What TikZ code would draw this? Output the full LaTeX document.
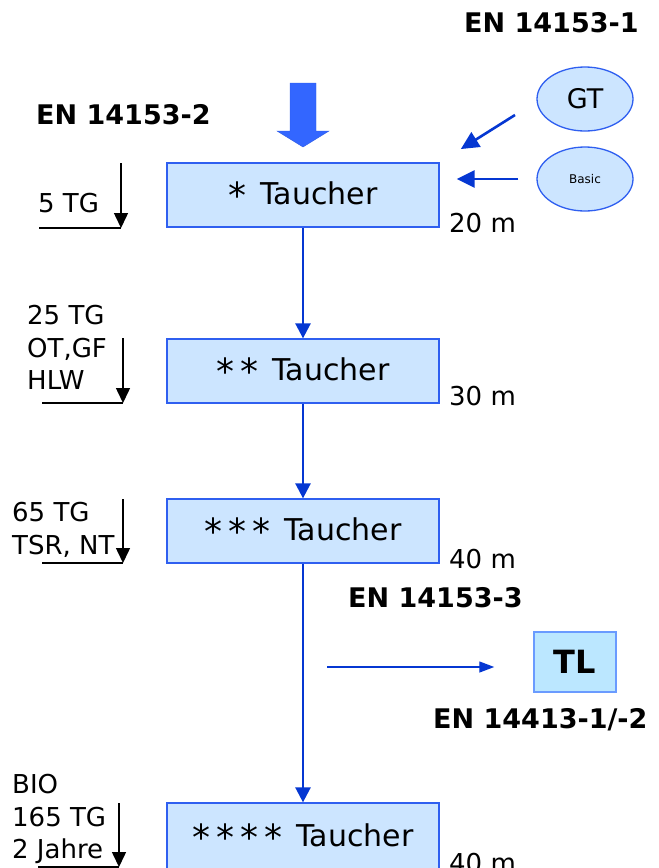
\documentclass[tikz,border=0pt]{standalone}
\usepackage{fontspec}
\setmainfont{DejaVu Sans}
\usepackage{xcolor}
\usetikzlibrary{arrows.meta}
\usetikzlibrary{shapes.geometric}
\definecolor{boxfill}{HTML}{CCE5FF}
\definecolor{boxline}{HTML}{2F5FF0}
\definecolor{flowblue}{HTML}{0537D2}
\definecolor{fatblue}{HTML}{3366FF}
\definecolor{tlfill}{HTML}{BBE7FF}
\definecolor{tlline}{HTML}{6A9BFF}
\newcommand{\taustern}{\raisebox{-4pt}{\scalebox{1.2}{*}}\kern6pt}

\tikzset{
  taucher/.style={draw=boxline, fill=boxfill, line width=1.3pt, minimum width=272pt, minimum height=64pt, inner sep=0pt, font=\fontsize{30}{34}\selectfont},
  kurs/.style={ellipse, draw=boxline, fill=boxfill, line width=1.3pt, minimum width=96pt, minimum height=64pt, inner sep=0pt},
  flow/.style={flowblue, line width=2.6pt, -{Triangle[length=15pt,width=15pt]}},
  feed/.style={flowblue, line width=2.6pt, -{Triangle[length=18pt,width=17pt]}},
  tgarrow/.style={black, line width=1.5pt, -{Triangle[length=15pt,width=14pt]}},
  norm/.style={font=\bfseries\fontsize{27}{30}\selectfont, anchor=base west, inner sep=0pt},
  label/.style={font=\fontsize{26}{32.5}\selectfont, inner sep=0pt},
}

\begin{document}
\begin{tikzpicture}[x=1pt, y=-1pt]
  \useasboundingbox (0,0) rectangle (659,868);

  \draw [fatblue!90!black, fill=fatblue] (290,83) -- (316,83) -- (316,131) -- (329,131) -- (303,147) -- (277,131) -- (290,131) -- cycle;

  \node (t1) [taucher] at (303,195) {\taustern\kern8pt Taucher};
  \node (t2) [taucher] at (303,371) {\taustern\taustern\kern8pt Taucher};
  \node (t3) [taucher] at (303,531) {\taustern\taustern\taustern\kern8pt Taucher};
  \node (t4) [taucher, minimum height=68pt] at (303,837) {\taustern\taustern\taustern\taustern\kern8pt Taucher};

  \node (gt) [kurs, font=\fontsize{27}{32}\selectfont] at (585,99) {GT};
  \node (basic) [kurs, font=\fontsize{12}{14}\selectfont] at (585,179) {Basic};

  \node (tl) [draw=tlline, fill=tlfill, line width=1.5pt, minimum width=82pt, minimum height=60pt, inner sep=0pt, font=\bfseries\fontsize{32}{36}\selectfont] at (575,662) {TL};

  \draw [flow] (t1) -- (t2);
  \draw [flow] (t2) -- (t3);
  \draw [flow] (t3) -- (t4);

  \coordinate (gtfoot) at (515,115);
  \draw [feed, shorten >=25pt] (gtfoot) -- (t1.north east);
  \draw [feed, shorten <=18pt, shorten >=17pt] (basic.west) -- (basic.west -| t1.east);

  \coordinate (tlfoot) at (327,667);
  \draw [flowblue, line width=1.4pt, -{Triangle[length=15pt,width=11pt]}, shorten >=39pt] (tlfoot) -- (tlfoot -| tl.west);

  \node (en1) [norm] at (464,32) {EN 14153-1};
  \node (en2) [norm] at (36,124) {EN 14153-2};
  \node (en3) [norm] at (348,607) {EN 14153-3};
  \node (en4) [norm] at (433,728) {EN 14413-1/-2};

  \node (d1) [label, anchor=base west] at (449,232) {20 m};
  \node (d2) [label, anchor=base west] at (449,405) {30 m};
  \node (d3) [label, anchor=base west] at (449,568) {40 m};
  \node (d4) [label, anchor=base west] at (449,872) {40 m};

  \node (s1) [label, anchor=base west] at (38,212) {5 TG};
  \node (s2) [label, anchor=north west, align=left] at (27,305) {25 TG\\OT,GF\\HLW};
  \node (s3) [label, anchor=north west, align=left] at (12,502) {65 TG\\TSR, NT};
  \node (s4) [label, anchor=north west, align=left] at (12,774) {BIO\\165 TG\\2 Jahre};

  \draw [line width=1.5pt] (39,228) -- (121,228);
  \draw [tgarrow] (121,163) -- (121,228);
  \draw [line width=1.5pt] (42,403) -- (123,403);
  \draw [tgarrow] (123,338) -- (123,403);
  \draw [line width=1.5pt] (42,563) -- (123,563);
  \draw [tgarrow] (123,499) -- (123,563);
  \draw [line width=1.5pt] (38,867) -- (119,867);
  \draw [tgarrow] (119,803) -- (119,867);
\end{tikzpicture}
\end{document}
